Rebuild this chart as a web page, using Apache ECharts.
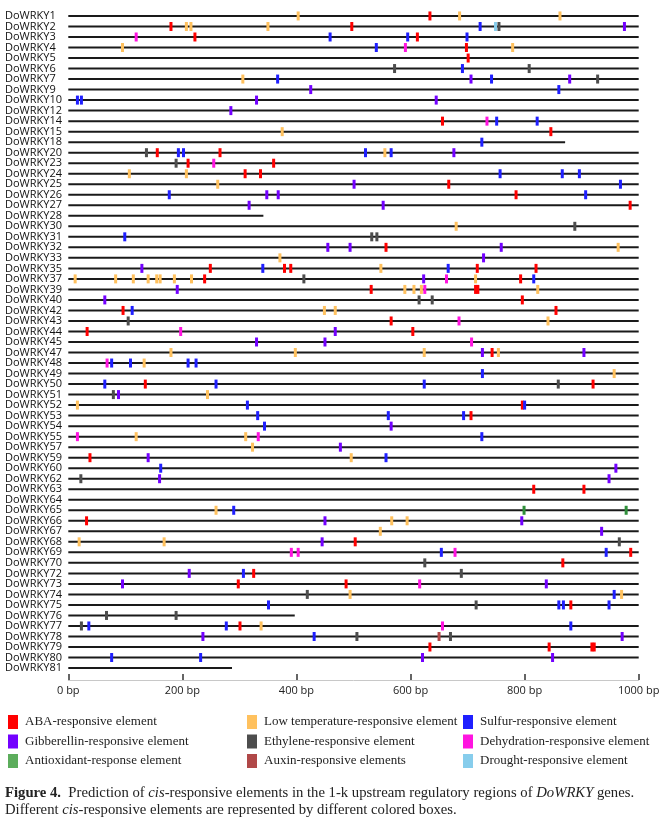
<!DOCTYPE html>
<html>
<head>
<meta charset="utf-8">
<script src="https://cdn.jsdelivr.net/npm/echarts@6/dist/echarts.min.js"></script>
<style>
html,body{margin:0;padding:0;background:#fff;}
#chart{width:667px;height:828px;}
</style>
</head>
<body>
<div id="chart"></div>
<script>
// Gene rows (top to bottom)
const geneNumbers = [1,2,3,4,5,6,7,9,10,12,14,15,18,20,23,24,25,26,27,28,30,31,32,33,35,37,39,40,42,43,44,45,47,48,49,50,51,52,53,54,55,57,59,60,62,63,64,65,66,67,68,69,70,72,73,74,75,76,77,78,79,80,81];
const genes = geneNumbers.map(n => 'DoWRKY' + n);
// Length of each promoter line (bp)
const shortLengths = {18: 871, 28: 342, 76: 397, 81: 287};
const geneLength = geneNumbers.map(n => shortLengths[n] || 1000);

// Elements: [gene number, position bp]
const ABA = [[1,634],[2,180],[2,497],[3,222],[3,612],[4,698],[5,701],[14,656],[15,846],[20,156],[20,266],[23,210],[23,360],[24,310],[24,337],[25,667],[26,785],[27,985],[32,557],[35,249],[35,379],[35,390],[35,717],[35,820],[37,239],[37,793],[39,531],[39,714],[39,718],[40,796],[42,96],[42,855],[43,566],[44,33],[44,604],[47,743],[50,135],[50,920],[52,796],[53,706],[59,38],[63,816],[63,904],[66,32],[68,503],[69,986],[70,867],[72,325],[73,298],[73,487],[75,881],[77,301],[79,634],[79,843],[79,918],[79,922]];
const LowTemp = [[1,403],[1,686],[1,862],[2,207],[2,215],[2,350],[4,95],[4,779],[7,306],[15,375],[20,555],[24,107],[24,207],[25,262],[30,680],[32,964],[33,371],[35,548],[37,12],[37,83],[37,114],[37,140],[37,155],[37,161],[37,186],[37,216],[37,714],[39,590],[39,606],[39,619],[39,823],[42,449],[42,468],[43,841],[47,180],[47,398],[47,624],[47,754],[48,133],[49,957],[51,244],[52,16],[55,119],[55,311],[57,323],[59,496],[65,259],[66,567],[66,594],[67,547],[68,19],[68,168],[74,494],[74,970],[77,338]];
const Sulfur = [[2,722],[3,459],[3,595],[3,699],[4,540],[6,691],[7,367],[7,742],[9,860],[10,16],[10,23],[14,751],[14,822],[18,725],[20,193],[20,202],[20,521],[20,566],[24,757],[24,866],[24,896],[25,968],[26,177],[26,907],[31,99],[35,341],[35,666],[37,816],[42,112],[48,76],[48,109],[48,210],[48,224],[49,726],[50,64],[50,259],[50,624],[52,314],[52,800],[53,332],[53,561],[53,693],[54,344],[55,725],[59,557],[60,162],[65,290],[69,654],[69,943],[72,307],[74,957],[75,351],[75,860],[75,868],[75,948],[77,36],[77,277],[77,881],[78,431],[80,76],[80,232]];
const Gibberellin = [[2,975],[7,706],[7,879],[9,425],[10,330],[10,645],[12,285],[20,676],[25,501],[26,348],[26,368],[27,317],[27,552],[32,455],[32,494],[32,759],[33,728],[35,129],[37,623],[39,191],[40,64],[44,468],[45,330],[45,450],[47,726],[47,904],[51,88],[54,566],[57,477],[59,140],[60,960],[62,160],[62,948],[66,450],[66,795],[67,935],[68,445],[72,212],[73,95],[73,838],[78,236],[78,971],[80,621],[80,849]];
const Ethylene = [[2,755],[6,572],[6,808],[7,928],[20,137],[23,189],[30,888],[31,532],[31,541],[37,413],[40,615],[40,638],[43,105],[50,859],[51,79],[62,22],[68,966],[70,625],[72,689],[74,419],[75,715],[76,67],[76,189],[77,23],[78,506],[78,670]];
const Dehydration = [[3,119],[4,591],[14,734],[23,255],[37,663],[39,625],[43,685],[44,197],[45,707],[48,68],[55,16],[55,333],[69,391],[69,403],[69,678],[73,616],[77,656]];
const Antioxidant = [[65,799],[65,978]];
const Auxin = [[78,650]];
const Drought = [[2,749]];

const tickValues = [0,200,400,600,800,1000];

const types = [
  {name:'ABA-responsive element', data:ABA, color:'#ff0000'},
  {name:'Gibberellin-responsive element', data:Gibberellin, color:'#7300ff'},
  {name:'Antioxidant-response element', data:Antioxidant, color:'#2f8f3a', legendColor:'#5cad5c'},
  {name:'Low temperature-responsive element', data:LowTemp, color:'#ffc15e'},
  {name:'Ethylene-responsive element', data:Ethylene, color:'#4d4d4d'},
  {name:'Auxin-responsive elements', data:Auxin, color:'#b04848'},
  {name:'Sulfur-responsive element', data:Sulfur, color:'#1f1fff'},
  {name:'Dehydration-responsive element', data:Dehydration, color:'#ff14e0'},
  {name:'Drought-responsive element', data:Drought, color:'#87cdec'}
];

const chart = echarts.init(document.getElementById('chart'));

const series = [{
  type:'custom',
  name:'rows',
  silent:true,
  z:1,
  encode:{x:0, y:1},
  data: genes.map((g,i) => [geneLength[i], g]),
  renderItem: function(params, api){
    const idx = api.value(1);
    const p0 = api.coord([0, idx]);
    const p1 = api.coord([api.value(0), idx]);
    return {type:'line', shape:{x1:p0[0], y1:p0[1], x2:p1[0], y2:p1[1]},
      style:{stroke:'#1a1a1a', lineWidth:2}};
  }
}];
types.forEach(t => {
  series.push({
    type:'scatter',
    name:t.name,
    z:3,
    symbol:'rect',
    symbolSize:[3,9],
    itemStyle:{color:t.color, opacity:1},
    data: t.data.map(([g,p]) => [p, 'DoWRKY' + g])
  });
});

function legendCol(left, names){
  return {
    orient:'vertical', left:left, top:715, padding:0, itemWidth:10, itemHeight:14, itemGap:5.5,
    icon:'rect', selectedMode:false,
    textStyle:{fontFamily:'Liberation Serif', fontSize:13, color:'#222', padding:[0,0,0,2]},
    data: names.map(n => {
      const t = types.find(x => x.name === n);
      return {name:n, itemStyle:{color:t.legendColor || t.color}};
    })
  };
}

chart.setOption({
  animation:false,
  backgroundColor:'#fff',
  grid:{left:68.3, right:28.3, top:10.7, bottom:828-673.3, containLabel:false},
  xAxis:{
    type:'value', min:0, max:1000, interval:200, offset:6.7,
    axisLine:{show:true, lineStyle:{color:'#c8c8c8', width:1}},
    axisTick:{show:true, inside:true, length:6, lineStyle:{color:'#333', width:1.5}},
    splitLine:{show:false},
    axisLabel:{margin:5, formatter: v => v + ' bp', fontFamily:'Open Sans', fontSize:11, color:'#222'}
  },
  yAxis:{
    type:'category', data:genes, inverse:true,
    axisLine:{show:false}, axisTick:{show:false}, splitLine:{show:false},
    axisLabel:{align:'left', margin:63.3, fontFamily:'Open Sans', fontSize:11, color:'#111', interval:0}
  },
  legend:[
    legendCol(8, ['ABA-responsive element','Gibberellin-responsive element','Antioxidant-response element']),
    legendCol(247, ['Low temperature-responsive element','Ethylene-responsive element','Auxin-responsive elements']),
    legendCol(463, ['Sulfur-responsive element','Dehydration-responsive element','Drought-responsive element'])
  ],
  graphic:[
    {type:'text', left:5, top:786, style:{
      text:'{b|Figure 4.}  Prediction of {i|cis}-responsive elements in the 1-k upstream regulatory regions of {i|DoWRKY} genes.',
      fontFamily:'Liberation Serif', fontSize:14.7, fill:'#222',
      rich:{b:{fontWeight:'bold', fontFamily:'Liberation Serif', fontSize:14.7, fill:'#222'},
            i:{fontStyle:'italic', fontFamily:'Liberation Serif', fontSize:14.7, fill:'#222'}}
    }},
    {type:'text', left:5, top:803, style:{
      text:'Different {i|cis}-responsive elements are represented by different colored boxes.',
      fontFamily:'Liberation Serif', fontSize:14.7, fill:'#222',
      rich:{i:{fontStyle:'italic', fontFamily:'Liberation Serif', fontSize:14.7, fill:'#222'}}
    }}
  ],
  series:series
});
</script>
</body>
</html>
